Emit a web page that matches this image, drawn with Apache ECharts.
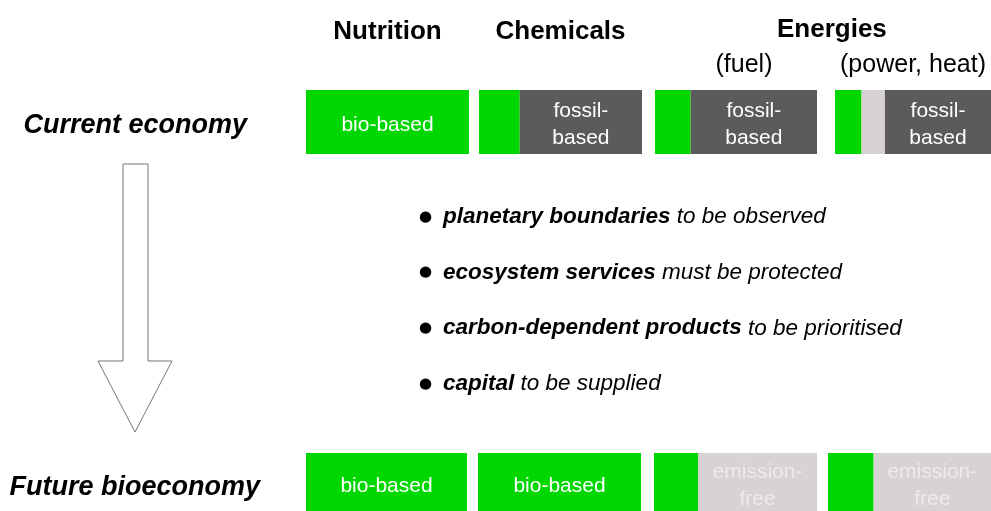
<!DOCTYPE html>
<html>
<head>
<meta charset="utf-8">
<script src="https://cdn.jsdelivr.net/npm/echarts@6/dist/echarts.min.js"></script>
<style>
  html, body { margin: 0; padding: 0; background: #fff; }
  #chart { width: 991px; height: 511px; }
</style>
</head>
<body>
<div id="chart"></div>
<script>
// sectors (column headers) and economies (row labels)
const columns = ['Nutrition', 'Chemicals', '(fuel)', '(power, heat)']
const groupHeader = 'Energies'
const rows = ['Current economy', 'Future bioeconomy']

// segment labels, in stacking order
const segmentLabels = ['bio-based', 'emission-\nfree', 'fossil-\nbased']

// share of each sector (%), columns in the order above
const currentBio = [100, 25, 22, 17]
const currentFree = [0, 0, 0, 15]
const currentFossil = [0, 75, 78, 68]
const futureBio = [100, 100, 27, 28]
const futureFree = [0, 0, 73, 72]
const futureFossil = [0, 0, 0, 0]

// bullet points between the two rows
const bulletBold = ['planetary boundaries', 'ecosystem services', 'carbon-dependent products', 'capital']
const bulletRest = ['to be observed', 'must be protected', 'to be prioritised', 'to be supplied']

const rowData = [
  [currentBio, currentFree, currentFossil],
  [futureBio, futureFree, futureFossil]
]

// layout
const FONT = 'Liberation Sans'
const segColors = ['#00d600', '#d8d3d3', '#5b5b5b']
const segTextColors = ['#ffffff', '#eeeaea', '#ffffff']
const rowTop = [90, 453]
const rowLabelMargin = [59, 46]
const boxes = [
  [[306, 469], [479, 642], [655, 817], [835, 991]],
  [[306, 467], [478, 641], [654, 817], [828, 991]]
]
const headerGap = [45, 45, 12, 12]
const headerStyle = [
  { fontSize: 26, fontWeight: 'bold' },
  { fontSize: 26, fontWeight: 'bold' },
  { fontSize: 25, fontWeight: 'normal', padding: [0, 0, 0, 16] },
  { fontSize: 25, fontWeight: 'normal' }
]

const chart = echarts.init(document.getElementById('chart'))

const grid = []
const xAxis = []
const yAxis = []
const series = []

rows.forEach((rowName, r) => {
  columns.forEach((colName, c) => {
    const idx = grid.length
    const [x0, x1] = boxes[r][c]
    grid.push({
      left: x0,
      top: rowTop[r],
      width: x1 - x0,
      height: 64,
      outerBoundsMode: 'none',
      containLabel: false
    })
    xAxis.push({
      gridIndex: idx,
      type: 'value',
      min: 0,
      max: 100,
      position: 'top',
      axisLine: { show: false },
      axisTick: { show: false },
      axisLabel: { show: false },
      splitLine: { show: false },
      name: r === 0 ? colName : '',
      nameLocation: 'middle',
      nameGap: headerGap[c],
      nameTextStyle: Object.assign({ color: '#000', fontFamily: FONT }, headerStyle[c])
    })
    yAxis.push({
      gridIndex: idx,
      type: 'category',
      data: [rowName],
      axisLine: { show: false },
      axisTick: { show: false },
      splitLine: { show: false },
      axisLabel: {
        show: c === 0,
        margin: rowLabelMargin[r],
        formatter: value => '{row|' + value + '}',
        rich: {
          row: {
            padding: [r === 0 ? 7 : 5, 0, 0, 0],
            color: '#000',
            fontFamily: FONT,
            fontSize: 27,
            fontWeight: 'bold',
            fontStyle: 'italic'
          }
        }
      }
    })
    const vals = rowData[r].map(arr => arr[c])
    const maxVal = Math.max(...vals)
    vals.forEach((v, s) => {
      series.push({
        type: 'bar',
        xAxisIndex: idx,
        yAxisIndex: idx,
        stack: 'box' + idx,
        barWidth: '100%',
        silent: true,
        itemStyle: { color: segColors[s] },
        label: {
          show: v > 0 && v === maxVal,
          position: 'inside',
          offset: [0, r === 0 ? 3 : 1],
          formatter: segmentLabels[s],
          color: segTextColors[s],
          fontFamily: FONT,
          fontSize: 21,
          lineHeight: 27
        },
        data: [v]
      })
    })
  })
})

const bulletText = bulletBold
  .map((b, i) => '{dot|●}{b|' + b + '}{i| ' + bulletRest[i] + '}')
  .join('\n')

const option = {
  animation: false,
  backgroundColor: '#fff',
  title: [
    {
      text: groupHeader,
      left: 777,
      top: 17,
      padding: 0,
      textStyle: { color: '#000', fontFamily: FONT, fontSize: 26, fontWeight: 'bold' }
    },
    {
      text: bulletText,
      left: 419,
      top: 189,
      padding: 0,
      textStyle: {
        fontWeight: 'normal',
        rich: {
          dot: { fontFamily: 'DejaVu Sans', fontSize: 15, fontWeight: 'normal', width: 24, lineHeight: 55.7, color: '#000' },
          b: { fontFamily: FONT, fontSize: 22.5, fontWeight: 'bold', fontStyle: 'italic', lineHeight: 55.7, color: '#000' },
          i: { fontFamily: FONT, fontSize: 22.5, fontWeight: 'normal', fontStyle: 'italic', lineHeight: 55.7, color: '#000' }
        }
      }
    }
  ],
  graphic: [
    {
      type: 'polygon',
      silent: true,
      shape: {
        points: [[123, 164], [148, 164], [148, 361], [172, 361], [135, 432], [98, 361], [123, 361]]
      },
      style: { fill: '#fff', stroke: '#777', lineWidth: 1 }
    }
  ],
  grid,
  xAxis,
  yAxis,
  series
}

chart.setOption(option)
window.addEventListener('resize', () => chart.resize())
</script>
</body>
</html>
